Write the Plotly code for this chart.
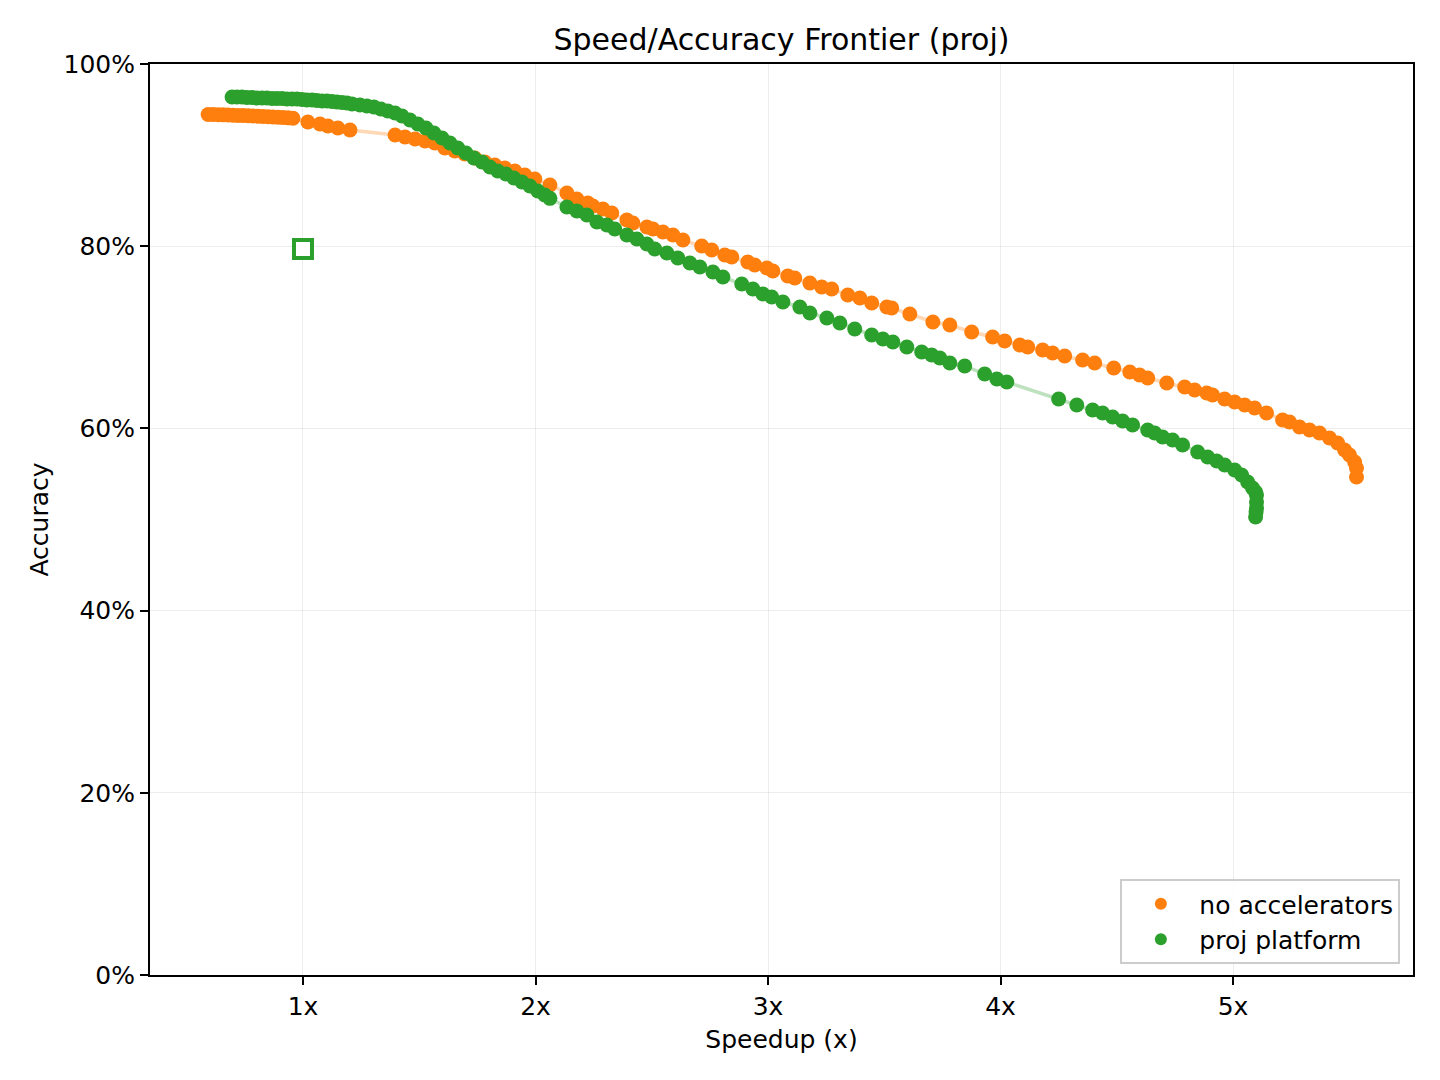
import plotly.graph_objects as go

# ---- data ----
no_acc_speedup = [
    0.592, 0.613, 0.635, 0.656, 0.678, 0.699, 0.721, 0.742, 0.764, 0.785, 0.807, 0.828,
    0.850, 0.871, 0.893, 0.914, 0.936, 0.957,
    1.021, 1.073, 1.107, 1.150, 1.202,
    1.396, 1.439, 1.482, 1.525, 1.567, 1.610, 1.653, 1.696, 1.739, 1.782, 1.825, 1.868,
    1.911, 1.954, 1.997, 2.062, 2.135, 2.178, 2.225, 2.247, 2.290, 2.328, 2.393, 2.419,
    2.479, 2.505, 2.548, 2.591, 2.634, 2.715, 2.758, 2.814, 2.844, 2.913, 2.943, 2.995,
    3.021, 3.085, 3.115, 3.180, 3.231, 3.274, 3.343, 3.395, 3.446, 3.511, 3.532, 3.610,
    3.709, 3.782, 3.876, 3.966, 4.018, 4.083, 4.117, 4.181, 4.224, 4.276, 4.353, 4.405,
    4.487, 4.556, 4.598, 4.633, 4.715, 4.792, 4.835, 4.887, 4.912, 4.964, 5.007, 5.050,
    5.093, 5.144, 5.213, 5.243, 5.286, 5.329, 5.372, 5.415, 5.450, 5.480, 5.501, 5.523,
    5.531, 5.531,
]
no_acc_accuracy = [
    94.45, 94.45, 94.43, 94.42, 94.40, 94.38, 94.36, 94.34, 94.32, 94.30, 94.27, 94.24,
    94.21, 94.18, 94.15, 94.12, 94.09, 94.05,
    93.63, 93.41, 93.19, 92.97, 92.76,
    92.21, 91.99, 91.77, 91.55, 91.33, 90.78, 90.45, 90.12, 89.68, 89.24, 88.91, 88.58,
    88.25, 87.82, 87.38, 86.72, 85.84, 85.18, 84.74, 84.41, 84.08, 83.64, 82.88, 82.55,
    82.11, 81.89, 81.56, 81.23, 80.68, 80.02, 79.58, 79.03, 78.81, 78.27, 77.94, 77.61,
    77.28, 76.73, 76.51, 75.96, 75.52, 75.30, 74.64, 74.31, 73.77, 73.33, 73.22, 72.56,
    71.68, 71.35, 70.58, 70.03, 69.59, 69.15, 68.94, 68.61, 68.28, 67.95, 67.51, 67.18,
    66.63, 66.19, 65.86, 65.53, 64.98, 64.54, 64.22, 63.89, 63.67, 63.23, 62.90, 62.57,
    62.24, 61.69, 60.92, 60.70, 60.15, 59.82, 59.50, 58.95, 58.40, 57.63, 57.08, 56.31,
    55.65, 54.67,
]

proj_speedup = [
    0.695, 0.716, 0.738, 0.759, 0.781, 0.802, 0.824, 0.845, 0.867, 0.888, 0.910, 0.931,
    0.953, 0.974, 0.996, 1.017, 1.039, 1.060, 1.082, 1.103, 1.125, 1.146, 1.168, 1.189,
    1.211, 1.245, 1.275, 1.305, 1.335, 1.365, 1.396, 1.426, 1.460, 1.494, 1.529, 1.563,
    1.598, 1.632, 1.666, 1.701, 1.735, 1.770, 1.804, 1.838, 1.873, 1.907, 1.942, 1.976,
    2.010, 2.040, 2.062,
    2.135, 2.178, 2.221, 2.264, 2.307, 2.341, 2.393, 2.436, 2.479, 2.513, 2.565, 2.612,
    2.664, 2.707, 2.763, 2.806, 2.887, 2.935, 2.978, 3.016, 3.064, 3.137, 3.180, 3.253,
    3.309, 3.373, 3.446, 3.494, 3.537, 3.597, 3.661, 3.704, 3.739, 3.782, 3.846, 3.932,
    3.984, 4.027,
    4.250, 4.328, 4.396, 4.439, 4.482, 4.525, 4.568, 4.633, 4.663, 4.697, 4.740, 4.783,
    4.848, 4.891, 4.930, 4.964, 5.007, 5.037, 5.063, 5.084, 5.097, 5.101, 5.101, 5.101,
    5.099, 5.097,
]
proj_accuracy = [
    96.38, 96.38, 96.38, 96.32, 96.32, 96.27, 96.27, 96.27, 96.21, 96.21, 96.21, 96.16,
    96.16, 96.16, 96.10, 96.05, 96.05, 95.99, 95.94, 95.94, 95.88, 95.83, 95.77, 95.72,
    95.61, 95.50, 95.39, 95.28, 95.06, 94.84, 94.62, 94.29, 93.85, 93.41, 92.97, 92.43,
    91.88, 91.33, 90.78, 90.23, 89.68, 89.24, 88.69, 88.25, 87.93, 87.49, 87.05, 86.61,
    86.06, 85.62, 85.25,
    84.30, 83.86, 83.42, 82.66, 82.33, 81.89, 81.23, 80.79, 80.24, 79.69, 79.25, 78.70,
    78.16, 77.72, 77.17, 76.62, 75.85, 75.30, 74.75, 74.42, 73.87, 73.33, 72.67, 72.12,
    71.57, 70.91, 70.25, 69.81, 69.48, 68.94, 68.39, 68.06, 67.73, 67.18, 66.85, 65.97,
    65.42, 65.09,
    63.23, 62.57, 62.02, 61.69, 61.25, 60.81, 60.37, 59.82, 59.50, 59.06, 58.73, 58.18,
    57.41, 56.86, 56.42, 55.98, 55.43, 54.88, 54.12, 53.46, 53.02, 52.69, 51.92, 51.26,
    50.82, 50.27,
]

baseline_speedup = [1.0]
baseline_accuracy = [79.7]

series_names = ["no accelerators", "proj platform"]
x_tickvals = [1, 2, 3, 4, 5]
x_ticktext = ["1x", "2x", "3x", "4x", "5x"]
y_tickvals = [0, 20, 40, 60, 80, 100]
y_ticktext = ["0%", "20%", "40%", "60%", "80%", "100%"]

ORANGE = "#ff7f0e"
GREEN = "#2ca02c"
FONT = "DejaVu Sans"

fig = go.Figure()

# faint connecting lines
fig.add_trace(go.Scatter(x=no_acc_speedup, y=no_acc_accuracy, mode="lines",
                         line=dict(color=ORANGE, width=3.5), opacity=0.3,
                         showlegend=False, hoverinfo="skip"))
fig.add_trace(go.Scatter(x=no_acc_speedup, y=no_acc_accuracy, mode="markers",
                         marker=dict(color=ORANGE, size=15, line=dict(width=0)),
                         name=series_names[0]))
fig.add_trace(go.Scatter(x=proj_speedup, y=proj_accuracy, mode="lines",
                         line=dict(color=GREEN, width=3.5), opacity=0.3,
                         showlegend=False, hoverinfo="skip"))
fig.add_trace(go.Scatter(x=proj_speedup, y=proj_accuracy, mode="markers",
                         marker=dict(color=GREEN, size=15, line=dict(width=0)),
                         name=series_names[1]))
fig.add_trace(go.Scatter(x=baseline_speedup, y=baseline_accuracy, mode="markers",
                         marker=dict(symbol="square", size=18, color="white",
                                     line=dict(color=GREEN, width=4)),
                         showlegend=False))

axis_common = dict(
    showline=True, linecolor="black", linewidth=2, mirror=True,
    ticks="outside", ticklen=8, tickwidth=2, tickcolor="black",
    showgrid=True, gridcolor="rgba(0,0,0,0.07)", gridwidth=1,
    zeroline=False, tickfont=dict(family=FONT, size=25, color="black"),
)

# page body has an 8px default margin; margins below compensate for it
fig.update_layout(
    width=1440, height=1080,
    paper_bgcolor="white", plot_bgcolor="white",
    margin=dict(l=142, r=35, t=56, b=113),
    font=dict(family=FONT, size=25, color="black"),
    title=dict(text="Speed/Accuracy Frontier (proj)", x=(781.5 - 8) / 1440, xanchor="center",
               y=1 - 31 / 1080, yanchor="middle",
               font=dict(family=FONT, size=30, color="black")),
    xaxis=dict(range=[0.342, 5.774], tickvals=x_tickvals, ticktext=x_ticktext,
               title=dict(text="Speedup (x)", font=dict(family=FONT, size=25), standoff=10),
               **axis_common),
    yaxis=dict(range=[0, 100], tickvals=y_tickvals, ticktext=y_ticktext,
               title=dict(text="Accuracy", font=dict(family=FONT, size=25), standoff=8),
               **axis_common),
    legend=dict(x=0.99, y=0.012, xanchor="right", yanchor="bottom",
                bgcolor="rgba(255,255,255,0.8)", bordercolor="#cccccc", borderwidth=2,
                font=dict(family=FONT, size=25, color="black"),
                itemsizing="constant", itemwidth=67, tracegroupgap=0),
)

fig.write_html("out.html")
